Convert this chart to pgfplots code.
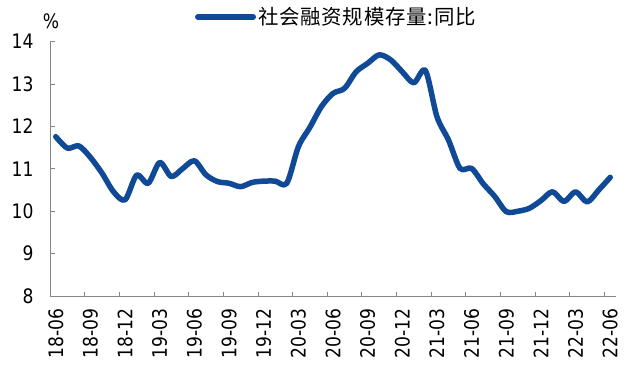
\documentclass[border=0pt]{standalone}
\usepackage{fontspec}
\setmainfont{DejaVu Sans}[FakeStretch=0.86]
\newfontfamily\cjk{Noto Sans CJK SC}[LetterSpace=4]
\usepackage{pgfplots}
\usepackage{pgfplotstable}
\pgfplotsset{compat=1.18}
\definecolor{lineblue}{RGB}{16,74,150}
\definecolor{axgray}{RGB}{134,134,134}

\pgfplotstableread{
i v
0 11.76
1 11.49
2 11.54
3 11.27
4 10.90
5 10.46
6 10.27
7 10.85
8 10.66
9 11.15
10 10.82
11 11.01
12 11.19
13 10.86
14 10.70
15 10.66
16 10.58
17 10.68
18 10.71
19 10.71
20 10.66
21 11.52
22 11.98
23 12.47
24 12.78
25 12.90
26 13.29
27 13.49
28 13.69
29 13.57
30 13.29
31 13.03
32 13.32
33 12.23
34 11.68
35 11.01
36 11.01
37 10.65
38 10.35
39 9.99
40 10.00
41 10.07
42 10.25
43 10.46
44 10.23
45 10.46
46 10.22
47 10.50
48 10.80
}\tsf

\begin{document}
\begin{tikzpicture}[x=1bp,y=1bp]
\useasboundingbox (0,0) rectangle (640,375);
\begin{axis}[
  at={(50bp,79bp)}, anchor=south west,
  scale only axis, width=566bp, height=254.3bp,
  xmin=-0.5, xmax=48.5, ymin=8, ymax=14,
  axis x line*=bottom, axis y line*=left,
  axis line style={axgray, line width=0.8bp},
  tick style={axgray, line width=0.8bp},
  tick align=inside, major tick length=4.5bp,
  ytick={8,9,...,14},
  xtick={-0.5,2.5,...,47.5},
  xticklabels={18-06,18-09,18-12,19-03,19-06,19-09,19-12,20-03,20-06,20-09,20-12,21-03,21-06,21-09,21-12,22-03,22-06},
  /pgf/number format/assume math mode=true,
  tick label style={font=\fontsize{20}{24}\selectfont, text=black},
  yticklabel style={xshift=-13bp},
  xticklabel style={xshift=5.77bp, yshift=-9bp, rotate=90, anchor=east},
  legend style={at={(axis description cs:0.2562,1.098)}, anchor=west, draw=none, fill=none,
    inner sep=0pt, outer sep=0pt, font=\cjk\fontsize{20.5}{24}\selectfont},
  legend cell align=left,
  legend image code/.code={\draw[#1, line width=6bp, line cap=round] (0bp,0bp) -- (55bp,0bp);},
  clip=false,
]
\addplot[lineblue, line width=5.5bp, smooth, tension=0.5, line join=round, line cap=round] table[x=i, y=v] {\tsf};
\addlegendentry{社会融资规模存量:同比}
\end{axis}
\node[font=\fontsize{20}{24}\selectfont] at (51,354) {\%};
\end{tikzpicture}
\end{document}
